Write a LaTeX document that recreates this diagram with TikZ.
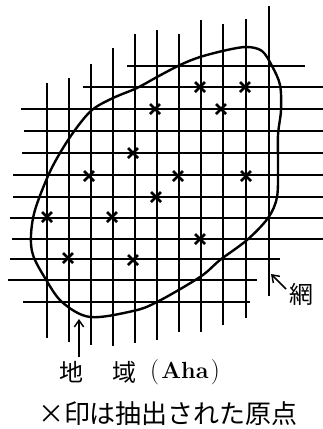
\documentclass[tikz,border=0pt]{standalone}
\usepackage{fontspec}
\newfontfamily\jp{Noto Sans CJK JP}
\usetikzlibrary{arrows.meta}
\tikzset{
  grid/.style={line width=1.1pt,line cap=butt},
  region/.style={line width=1.8pt},
  pointer/.style={line width=1.1pt,-{Straight Barb[length=5pt,width=7pt,line width=1.1pt]}},
  xmark/.pic={\draw[line width=2pt] (-5,-5)--(5,5) (-5,5)--(5,-5);},
  lbl/.style={inner sep=0pt,font=\jp\fontsize{18}{18}\selectfont}
}
\begin{document}
\begin{tikzpicture}[x=0.75pt,y=-0.75pt]
\useasboundingbox (0,0) rectangle (323,429);
% vertical grid lines
\foreach \x/\a/\b in {47/83/338,69/78/342,91/64/345,113/48/346,135/34/343,157/30/340,179/34/332,201/20/332,223/24/325,246/19/318,269/6/296}
  \draw[grid] (\x,\a) -- (\x,\b);
% horizontal grid lines
\foreach \y/\a/\b in {66/127/305,87/83/323,109/21/323,131/24/323,153/22/323,175/13/323,197/13/323,218/10/323,239/12/323,259/10/280,280/8/257,302/23/250}
  \draw[grid] (\a,\y) -- (\b,\y);
% region boundary
\draw[region] plot[smooth cycle,tension=0.55] coordinates {
 (247,47) (262,51) (272,66) (280,85) (281,110) (278,135) (278,165) (277,197) (268,218) (247,240) (220,260) (200,277) (157,302) (133,311) (90,317) (62,302) (45,278) (33,255) (31,235) (35,210) (48,176) (60,153) (75,130) (92,110) (113,98) (137,88) (157,77) (180,65) (200,57) (227,50)};
% extracted points
\foreach \p in {(200,87),(245,87),(155,109),(221,109),(133,153),(89,176),(178,176),(246,176),(156,197),(47,217),(112,217),(200,239),(68,258),(133,260)}
  \pic at \p {xmark};
% labels
\node[lbl] (chi) at (71,372) {地};
\node[lbl] (iki) at (124,372) {域};
\node[inner sep=0pt] (aha) at (185,372) {{\fontsize{19}{19}\selectfont(}\,{\fontsize{17.5}{17.5}\selectfont\bfseries Aha}\,{\fontsize{19}{19}\selectfont)}};
\node[lbl] (ami) at (301,294) {網};
\node[inner sep=0pt,font=\jp\fontsize{19.5}{20}\selectfont] (note) at (168,414) {×印は抽出された原点};
% pointers
\coordinate (regtail) at (79,357);
\coordinate (regtip) at (79,319);
\coordinate (amitail) at (286,289);
\coordinate (amitip) at (271,274);
\draw[pointer] (regtail) -- (regtip);
\draw[pointer] (amitail) -- (amitip);
\end{tikzpicture}
\end{document}
